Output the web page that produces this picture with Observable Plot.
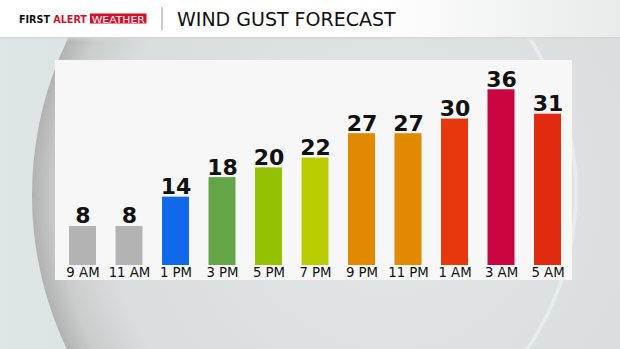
<!DOCTYPE html>
<html>
<head>
<meta charset="utf-8">
<script src="https://cdn.jsdelivr.net/npm/d3@7"></script>
<script src="https://cdn.jsdelivr.net/npm/@observablehq/plot@0.6"></script>
<style>
  html, body { margin: 0; padding: 0; }
  #stage { position: relative; width: 620px; height: 349px; overflow: hidden; font-family: "DejaVu Sans", sans-serif; }
  #bg { position: absolute; left: 0; top: 0; }
  #chart { position: absolute; left: 55px; top: 60px; width: 517px; height: 220px; }
</style>
</head>
<body>
<div id="stage">
  <svg id="bg" width="620" height="349" viewBox="0 0 620 349">
    <defs>
      <linearGradient id="base" x1="0" x2="1" y1="0" y2="0">
        <stop offset="0" stop-color="#dfe6e8"/>
        <stop offset="1" stop-color="#cfd2d3"/>
      </linearGradient>
      <radialGradient id="lens" cx="390" cy="195" r="358" gradientUnits="userSpaceOnUse">
        <stop offset="0" stop-color="#e4e7e8"/>
        <stop offset="0.8" stop-color="#dadddd"/>
        <stop offset="0.93" stop-color="#cbcdcd"/>
        <stop offset="1" stop-color="#b2b2b2"/>
      </radialGradient>
      <linearGradient id="head" x1="0" x2="1" y1="0" y2="0">
        <stop offset="0" stop-color="#ffffff"/>
        <stop offset="0.6" stop-color="#ffffff"/>
        <stop offset="1" stop-color="#e9eaea"/>
      </linearGradient>
      <linearGradient id="shadow" x1="0" x2="0" y1="0" y2="1">
        <stop offset="0" stop-color="#c9cccd"/>
        <stop offset="1" stop-color="#dfe3e4" stop-opacity="0"/>
      </linearGradient>
      <clipPath id="rightHalf"><rect x="420" y="0" width="200" height="349"/></clipPath>
    </defs>
    <rect width="620" height="349" fill="url(#base)"/>
    <circle cx="390" cy="195" r="358" fill="url(#lens)"/>
    <circle cx="300" cy="192" r="276" fill="none" stroke="#e5edef" stroke-width="3.5" clip-path="url(#rightHalf)"/>
    <rect x="0" y="36" width="620" height="5" fill="url(#shadow)"/>
    <rect x="0" y="0" width="620" height="37" fill="url(#head)"/>
    <text x="19" y="23" font-family="DejaVu Sans" font-weight="bold" font-size="9.6" fill="#111">FIRST <tspan fill="#d0112b">ALERT</tspan></text>
    <rect x="90" y="13.5" width="56.5" height="10" fill="#d0112b"/>
    <text x="118.2" y="22.6" text-anchor="middle" font-family="DejaVu Sans" font-size="9.4" fill="#fff" textLength="53" lengthAdjust="spacingAndGlyphs">WEATHER</text>
    <line x1="162" x2="162" y1="7" y2="30" stroke="#a8a8a8" stroke-width="1.2"/>
    <text x="177" y="26" font-family="DejaVu Sans" font-size="19" fill="#111">WIND GUST FORECAST</text>
  </svg>
  <div id="chart"></div>
</div>
<script>
const times = ["9 AM", "11 AM", "1 PM", "3 PM", "5 PM", "7 PM", "9 PM", "11 PM", "1 AM", "3 AM", "5 AM"];
const gusts = [8, 8, 14, 18, 20, 22, 27, 27, 30, 36, 31];
const barColors = ["#b3b3b3", "#b3b3b3", "#1169e9", "#63a547", "#94c201", "#b8cc00", "#e18900", "#e18900", "#e6380c", "#c9053f", "#e02b10"];

const data = times.map((t, i) => ({time: t, gust: gusts[i], color: barColors[i]}));

const chart = Plot.plot({
  width: 517,
  height: 220,
  marginLeft: 14,
  marginRight: 11,
  marginTop: 0,
  marginBottom: 15,
  style: {background: "#f7f7f7", fontFamily: "DejaVu Sans", color: "#111"},
  x: {domain: times, paddingInner: 0.42, paddingOuter: 0, round: false, label: null},
  y: {domain: [0, 42], axis: null},
  color: {type: "identity"},
  marks: [
    Plot.barY(data, {x: "time", y: "gust", fill: "color"}),
    Plot.text(data, {x: "time", y: "gust", text: d => String(d.gust), dy: -3, lineAnchor: "bottom",
      fontSize: 22, fontWeight: "bold", fill: "#111"}),
    Plot.axisX({tickSize: 0, tickPadding: 2, fontSize: 13.3, fill: "#111", label: null})
  ]
});
document.getElementById("chart").appendChild(chart);
</script>
</body>
</html>
